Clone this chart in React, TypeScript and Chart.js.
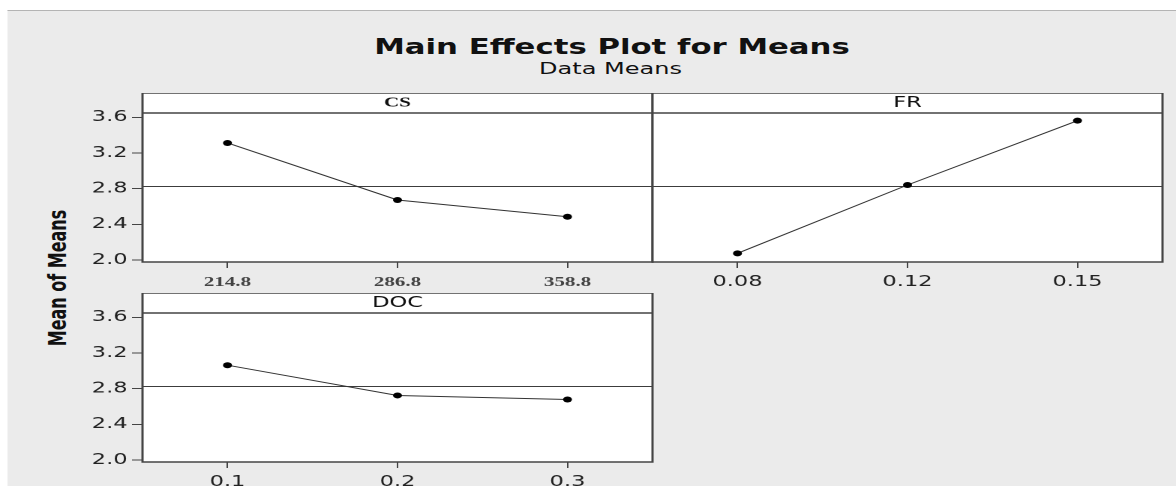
import React, { useEffect, useRef } from 'react';
import { Chart, registerables } from 'chart.js';

Chart.register(...registerables);

// ---------- data ----------
const csLevels = ['214.8', '286.8', '358.8'];
const csMeans = [3.312, 2.673, 2.485];

const frLevels = ['0.08', '0.12', '0.15'];
const frMeans = [2.075, 2.841, 3.562];

const docLevels = ['0.1', '0.2', '0.3'];
const docMeans = [3.063, 2.724, 2.679];

const yTicks = [2.0, 2.4, 2.8, 3.2, 3.6];

const allMeans = [...csMeans, ...frMeans, ...docMeans];
const grandMean = allMeans.reduce((a, b) => a + b, 0) / allMeans.length;

// ---------- layout (unscaled coordinates; the whole figure is stretched horizontally) ----------
const STRETCH = 1.5;
const Y_MIN = 1.978;
const Y_MAX = 3.648;
const STRIP_H = 20;
const Y_AXIS_W = 60;
const X_AXIS_H = 30;
const RIGHT_PAD = 8;
const PANEL_W = 340;
const PANEL_H = 149;

const SANS = "'DejaVu Sans', Verdana, sans-serif";
const SERIF = "'Liberation Serif', 'Times New Roman', serif";

const framePlugin = {
  id: 'panelFrame',
  beforeDraw(chart: any) {
    const { ctx, chartArea: a } = chart;
    ctx.save();
    ctx.fillStyle = '#ffffff';
    ctx.fillRect(a.left, a.top - STRIP_H, a.right - a.left, a.bottom - a.top + STRIP_H);
    ctx.restore();
  },
  beforeDatasetsDraw(chart: any) {
    const { ctx, chartArea: a } = chart;
    const y = chart.scales.y.getPixelForValue(grandMean);
    ctx.save();
    ctx.strokeStyle = '#3c3c3c';
    ctx.lineWidth = 1;
    ctx.beginPath();
    ctx.moveTo(a.left, y);
    ctx.lineTo(a.right, y);
    ctx.stroke();
    ctx.restore();
  },
  afterDraw(chart: any) {
    const { ctx, chartArea: a } = chart;
    ctx.save();
    ctx.strokeStyle = '#444444';
    ctx.lineWidth = 1.5;
    ctx.strokeRect(a.left, a.top - STRIP_H, a.right - a.left, a.bottom - a.top + STRIP_H);
    ctx.beginPath();
    ctx.moveTo(a.left, a.top);
    ctx.lineTo(a.right, a.top);
    ctx.stroke();
    ctx.restore();
  },
};

type PanelProps = {
  title: string;
  labels: string[];
  values: number[];
  left: number;
  top: number;
  showY: boolean;
  serifX?: boolean;
  serifTitle?: boolean;
};

function Panel({ title, labels, values, left, top, showY, serifX, serifTitle }: PanelProps) {
  const ref = useRef<HTMLCanvasElement | null>(null);

  useEffect(() => {
    if (!ref.current) return;
    const chart = new Chart(ref.current, {
      type: 'line',
      data: {
        labels,
        datasets: [
          {
            data: values,
            borderColor: '#333333',
            borderWidth: 1,
            pointRadius: 3,
            pointBackgroundColor: '#000000',
            pointBorderColor: '#000000',
            pointBorderWidth: 0,
            tension: 0,
          },
        ],
      },
      options: {
        animation: false,
        responsive: true,
        maintainAspectRatio: false,
        devicePixelRatio: 2,
        events: [],
        layout: { padding: { left: 0, right: RIGHT_PAD, top: 0, bottom: 0 } },
        plugins: {
          legend: { display: false },
          tooltip: { enabled: false },
          title: {
            display: true,
            text: title,
            fullSize: false,
            color: '#111111',
            font: {
              family: serifTitle ? SERIF : SANS,
              size: serifTitle ? 14 : 15,
              weight: serifTitle ? 'bold' : 'normal',
              lineHeight: 1,
            },
            padding: { top: serifTitle ? 3 : 2.5, bottom: serifTitle ? 3 : 2.5 },
          },
        },
        scales: {
          x: {
            type: 'category',
            offset: true,
            border: { display: false },
            grid: {
              display: true,
              drawOnChartArea: false,
              drawTicks: true,
              tickLength: 6,
              offset: false,
              color: '#444444',
              lineWidth: 1,
            },
            ticks: {
              autoSkip: false,
              maxRotation: 0,
              padding: serifX ? 6 : 5,
              color: serifX ? '#444444' : '#222222',
              font: serifX
                ? { family: SERIF, size: 14, weight: 'bold' }
                : { family: SANS, size: 15 },
            },
            afterFit(scale: any) {
              scale.height = X_AXIS_H;
            },
          },
          y: {
            type: 'linear',
            min: Y_MIN,
            max: Y_MAX,
            border: { display: false },
            afterBuildTicks(scale: any) {
              scale.ticks = yTicks.map((v) => ({ value: v }));
            },
            grid: {
              display: showY,
              drawOnChartArea: false,
              drawTicks: true,
              tickLength: 7,
              color: '#444444',
              lineWidth: 1,
            },
            ticks: {
              display: showY,
              padding: 3,
              color: '#222222',
              font: { family: SANS, size: 15 },
              callback: (v: any) => Number(v).toFixed(1),
            },
            afterFit(scale: any) {
              scale.width = Y_AXIS_W;
            },
          },
        },
      },
      plugins: [framePlugin],
    } as any);
    return () => chart.destroy();
  }, []);

  const width = Y_AXIS_W + PANEL_W + RIGHT_PAD;
  const height = STRIP_H + PANEL_H + X_AXIS_H;
  return (
    <div style={{ position: 'absolute', left, top, width, height }}>
      <canvas ref={ref} />
    </div>
  );
}

export default function App() {
  const L = 95;
  const M = L + PANEL_W;
  return (
    <div
      style={{
        position: 'absolute',
        left: 0,
        top: 0,
        width: 1176 / STRETCH,
        height: 486,
        overflow: 'hidden',
        transform: `scaleX(${STRETCH})`,
        transformOrigin: '0 0',
      }}
    >
      <div
        style={{
          position: 'absolute',
          left: 7 / STRETCH,
          top: 10,
          right: 0,
          bottom: 0,
          background: '#ebebeb',
          borderTop: '1px solid #b4b4b4',
        }}
      />
      <div
        style={{
          position: 'absolute',
          left: 208,
          width: 400,
          top: 37,
          textAlign: 'center',
          fontFamily: SANS,
          fontWeight: 'bold',
          fontSize: 20.5,
          lineHeight: '20px',
          color: '#111',
          whiteSpace: 'nowrap',
        }}
      >
        Main Effects Plot for Means
      </div>
      <div
        style={{
          position: 'absolute',
          left: 207,
          width: 400,
          top: 61,
          textAlign: 'center',
          fontFamily: SANS,
          fontSize: 16,
          lineHeight: '16px',
          color: '#111',
          whiteSpace: 'nowrap',
        }}
      >
        Data Means
      </div>
      <div
        style={{
          position: 'absolute',
          left: 38.5,
          top: 278,
          transform: 'translate(-50%, -50%) rotate(-90deg)',
          fontFamily: SANS,
          fontWeight: 'bold',
          fontSize: 16,
          lineHeight: '16px',
          color: '#111',
          whiteSpace: 'nowrap',
        }}
      >
        Mean of Means
      </div>
      <Panel title="CS" labels={csLevels} values={csMeans} left={L - Y_AXIS_W} top={93} showY={true} serifX serifTitle />
      <Panel title="FR" labels={frLevels} values={frMeans} left={M - Y_AXIS_W} top={93} showY={false} />
      <Panel title="DOC" labels={docLevels} values={docMeans} left={L - Y_AXIS_W} top={293} showY={true} />
    </div>
  );
}
